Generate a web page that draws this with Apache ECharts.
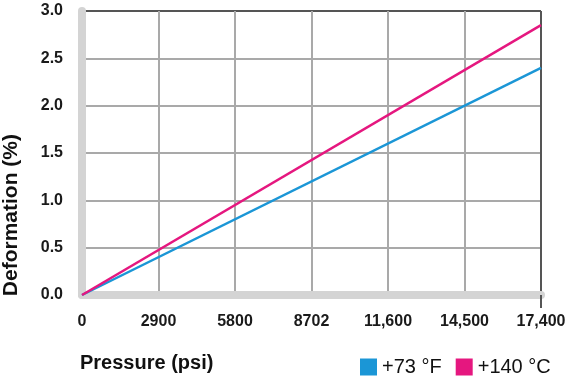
<!DOCTYPE html>
<html>
<head>
<meta charset="utf-8">
<script src="https://cdn.jsdelivr.net/npm/echarts@6/dist/echarts.min.js"></script>
<style>
  html, body { margin: 0; padding: 0; background: #fff; }
  #chart { width: 570px; height: 377px; }
</style>
</head>
<body>
<div id="chart"></div>
<script>
// pressure in psi, deformation in %
const pressure = [0, 17400]
const deform73F = [0, 2.4]
const deform140C = [0, 2.85]
const xTickLabels = ["0", "2900", "5800", "8702", "11,600", "14,500", "17,400"]
const seriesNames = ["+73 °F", "+140 °C"]

const font = "Liberation Sans, Arial, Helvetica, sans-serif"
const gridGray = "#a9a9a9"
const frameDark = "#555"

const chart = echarts.init(document.getElementById("chart"))

const option = {
    animation: false,
    grid: { left: 82, right: 29, top: 11, bottom: 82 },
    legend: {
        left: 355,
        top: 352,
        icon: "rect",
        itemWidth: 17,
        itemHeight: 17,
        itemGap: 14,
        textStyle: { fontFamily: font, fontSize: 20, color: "#111" },
        data: seriesNames
    },
    xAxis: [
        {
            type: "value",
            min: 0,
            max: 17400,
            interval: 2900,
            axisLine: { show: true, onZero: false, lineStyle: { color: "#d4d4d4", width: 8 } },
            axisTick: { show: false },
            axisLabel: {
                margin: 19,
                fontFamily: font,
                fontSize: 16,
                fontWeight: "bold",
                color: "#1a1a1a",
                formatter: (v, i) => xTickLabels[i]
            },
            splitLine: {
                show: true,
                lineStyle: {
                    color: ["transparent", gridGray, gridGray, gridGray, gridGray, gridGray, frameDark],
                    width: 2
                }
            },
            name: "Pressure (psi)",
            nameLocation: "start",
            nameGap: 0,
            nameTextStyle: {
                fontFamily: font,
                fontSize: 20,
                fontWeight: "bold",
                color: "#111",
                align: "left",
                verticalAlign: "top",
                padding: [58, 0, 0, -2]
            }
        },
        {
            type: "value",
            min: 0,
            max: 17400,
            position: "bottom",
            axisLine: { show: false },
            axisLabel: { show: false },
            splitLine: { show: false },
            axisTick: {
                show: true,
                customValues: [17400],
                length: 13,
                lineStyle: { color: frameDark, width: 2 }
            }
        }
    ],
    yAxis: {
        type: "value",
        min: 0,
        max: 3,
        interval: 0.5,
        axisLine: { show: true, lineStyle: { color: "#d4d4d4", width: 8 } },
        axisTick: { show: false },
        axisLabel: {
            margin: 19,
            fontFamily: font,
            fontSize: 16,
            fontWeight: "bold",
            color: "#1a1a1a",
            formatter: v => v.toFixed(1)
        },
        splitLine: {
            show: true,
            lineStyle: {
                color: ["transparent", gridGray, gridGray, gridGray, gridGray, gridGray, frameDark],
                width: 2
            }
        }
    },
    graphic: [
        {
            type: "text",
            left: 1,
            top: 134,
            rotation: Math.PI / 2,
            style: {
                text: "Deformation (%)",
                font: "bold 21px " + font,
                fill: "#111"
            }
        }
    ],
    series: [
        {
            name: seriesNames[0],
            type: "line",
            data: pressure.map((p, i) => [p, deform73F[i]]),
            symbol: "none",
            itemStyle: { color: "#1b96d6" },
            lineStyle: { color: "#1b96d6", width: 2.5 }
        },
        {
            name: seriesNames[1],
            type: "line",
            data: pressure.map((p, i) => [p, deform140C[i]]),
            symbol: "none",
            itemStyle: { color: "#e5177f" },
            lineStyle: { color: "#e5177f", width: 2.5 }
        }
    ]
}

chart.setOption(option)
</script>
</body>
</html>
